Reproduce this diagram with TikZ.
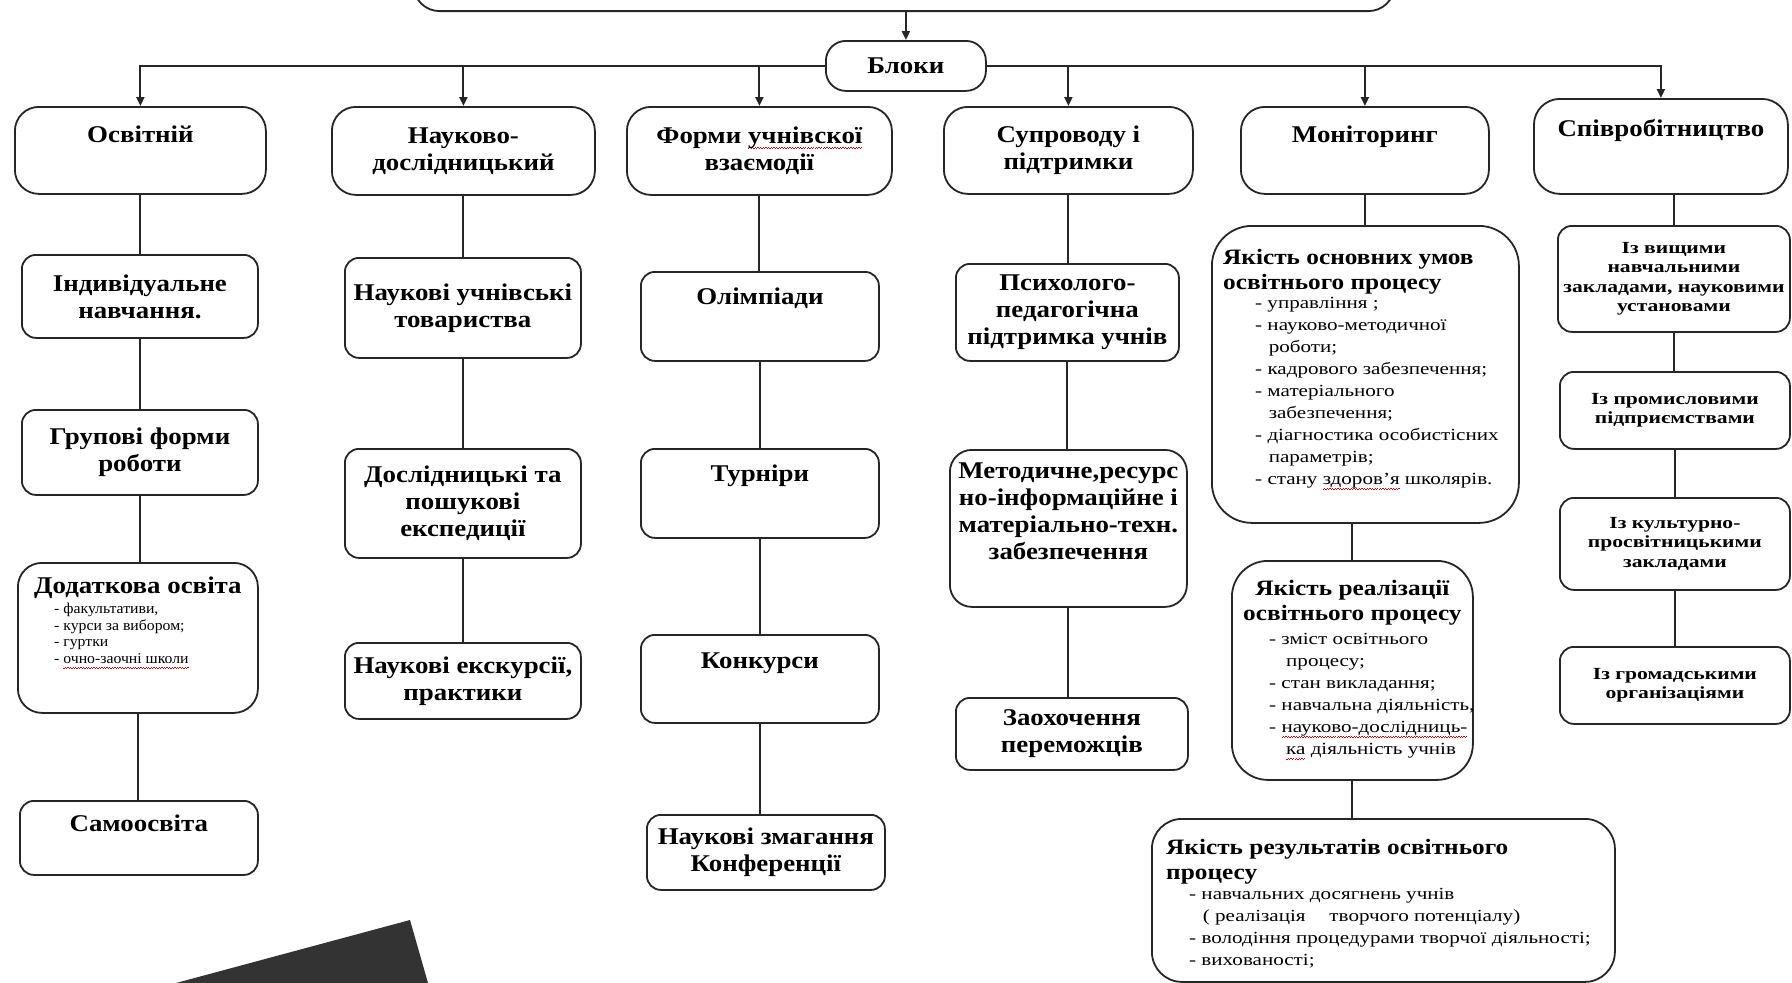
\documentclass[tikz,border=0pt]{standalone}
\usepackage{fontspec}
\setmainfont{Liberation Serif}
\newfontfamily\stA[FakeStretch=1.12]{Liberation Serif}
\newfontfamily\stB[FakeStretch=1.15]{Liberation Serif}
\newfontfamily\stC[FakeStretch=1.24]{Liberation Serif}
\newfontfamily\stE[FakeStretch=1.27]{Liberation Serif}
\newfontfamily\stD[FakeStretch=1.05]{Liberation Serif}
\usetikzlibrary{arrows.meta}
\newcommand\fT{\stA\fontsize{24}{27}\selectfont\bfseries}
\newcommand\fM{\stB\fontsize{22}{25}\selectfont\bfseries}
\newcommand\fS{\stE\fontsize{17}{19.5}\selectfont\bfseries}
\newcommand\fL{\stC\fontsize{17}{22}\selectfont}
\newcommand\fD{\stD\fontsize{15}{16.5}\selectfont}
\newcommand\sq[1]{\setbox0=\hbox{#1}\rlap{\color{red!85!black}\hbox to\wd0{\xleaders\hbox{\rule[-5.6pt]{1.3pt}{1pt}\rule[-4.6pt]{1.3pt}{1pt}}\hfill}}\box0\relax}
\begin{document}
\begin{tikzpicture}[x=1pt,y=-1pt,
  bx/.style={draw=black!85, line width=1.8pt, rounded corners=#1, inner sep=0pt,
    align=center, font=\fT, anchor=north west},
  bx/.default=14pt,
  sz/.style 2 args={minimum width=#1, minimum height=#2},
  ln/.style={draw=black!85, line width=2pt},
  arr/.style={ln, -{Triangle[length=9pt,width=8pt]}},
  tt/.style={anchor=base, font=\fT, inner sep=0pt},
  tl/.style={anchor=north west, font=\fM, inner sep=0pt, align=left},
  tc/.style={anchor=north, font=\fM, inner sep=0pt, align=center},
  lst/.style={anchor=north west, inner sep=0pt, align=left},
]
\useasboundingbox (0,0) rectangle (1792,983);
\clip (0,0) rectangle (1792,983);
\fill[white] (0,0) rectangle (1792,983);

% top and Blocks
\node[bx=26pt, sz={981}{110}, anchor=south] (top) at (904,12) {};
\node[bx=20pt, sz={160}{50}] (blk) at (825,40) {Блоки};

% top-level blocks
\node[bx=24pt, sz={251}{87}] (osv) at (14,106) {};
\node[tt] (osvT) at ([yshift=-36pt]osv.north) {Освітній};
\node[bx=24pt, sz={263}{88}] (nd) at (331,106) {Науково-\\дослідницький};
\node[bx=24pt, sz={265}{88}] (fu) at (626,106) {Форми \sq{учнівскої}\\взаємодії};
\node[bx=24pt, sz={249}{87}] (sup) at (943,106) {Супроводу і\\підтримки};
\node[bx=24pt, sz={248}{87}] (mon) at (1240,106) {};
\node[tt] (monT) at ([yshift=-36pt]mon.north) {Моніторинг};
\node[bx=26pt, sz={254}{95}] (spiv) at (1533,98) {};
\node[tt] (spivT) at ([yshift=-38pt]spiv.north) {Співробітництво};

% column 1
\node[bx, sz={236}{83}] (ind) at (21,254) {Індивідуальне\\навчання.};
\node[bx, sz={236}{85}] (grp) at (21,409) {Групові форми\\роботи};
\node[bx=24pt, sz={240}{150}] (dod) at (17,562) {};
\node[tt] (dodT) at ([yshift=-31pt]dod.north) {Додаткова освіта};
\node[lst, font=\fD] (dodL) at ([xshift=37pt,yshift=-41pt]dod.north west)
  {- факультативи,\\- курси за вибором;\\- гуртки\\- \sq{очно-заочні школи}};
\node[bx, sz={238}{74}] (sam) at (19,800) {};
\node[tt] (samT) at ([yshift=-31pt]sam.north) {Самоосвіта};

% column 2
\node[bx, sz={236}{100}] (ns) at (344,257) {Наукові учнівські\\товариства};
\node[bx, sz={236}{109}] (dos) at (344,448) {Дослідницькі та\\пошукові\\експедиції};
\node[bx, sz={236}{76}] (eks) at (344,642) {Наукові екскурсії,\\практики};

% column 3
\node[bx, sz={238}{89}] (ol) at (640,271) {};
\node[tt] (olT) at ([yshift=-33pt]ol.north) {Олімпіади};
\node[bx, sz={238}{89}] (tur) at (640,448) {};
\node[tt] (turT) at ([yshift=-33pt]tur.north) {Турніри};
\node[bx, sz={238}{88}] (kon) at (640,634) {};
\node[tt] (konT) at ([yshift=-34pt]kon.north) {Конкурси};
\node[bx, sz={238}{75}] (zm) at (646,814) {Наукові змагання\\Конференції};

% column 4
\node[bx, sz={223}{97}] (psy) at (955,263) {Психолого-\\педагогічна\\підтримка учнів};
\node[bx=22pt, sz={237}{157}] (met) at (949,449) {};
\node[tc, font=\fT] (metT) at ([yshift=-14pt]met.north) {Методичне,ресурс\\но-інформаційне і\\матеріально-техн.\\забезпечення};
\node[bx, sz={232}{72}] (zao) at (955,697) {Заохочення\\переможців};

% column 5
\node[bx=40pt, sz={307}{297}] (osn) at (1211,225) {};
\node[tl] (osnT) at ([xshift=12pt,yshift=-24pt]osn.north west) {Якість основних умов\\освітнього процесу};
\node[lst, font=\fL] (osnL) at ([xshift=44pt,yshift=-72pt]osn.north west)
  {- управління ;\\- науково-методичної\\\hspace*{0.8em}роботи;\\- кадрового забезпечення;\\- матеріального\\\hspace*{0.8em}забезпечення;\\- діагностика особистісних\\\hspace*{0.8em}параметрів;\\- стану \sq{здоров’я} школярів.};
\node[bx=36pt, sz={241}{219}] (real) at (1231,560) {};
\node[tc] (realT) at ([yshift=-20pt]real.north) {Якість реалізації\\освітнього процесу};
\node[lst, font=\fL] (realL) at ([xshift=38pt,yshift=-73pt]real.north west)
  {- зміст освітнього\\\hspace*{1em}процесу;\\- стан викладання;\\- навчальна діяльність,\\- \sq{науково-дослідниць-}\\\hspace*{1em}\sq{ка} діяльність учнів};
\node[bx=30pt, sz={463}{163}] (res) at (1151,818) {};
\node[tl] (resT) at ([xshift=15pt,yshift=-21pt]res.north west) {Якість результатів освітнього\\процесу};
\node[lst, font=\fL] (resL) at ([xshift=38pt,yshift=-70pt]res.north west)
  {- навчальних досягнень учнів\\\hspace*{0.8em}( реалізація\hspace{1.4em}творчого потенціалу)\\- володіння процедурами творчої діяльності;\\- вихованості;};

% column 6
\node[bx, font=\fS, sz={232}{106}] (vys) at (1557,225) {Із вищими\\навчальними\\закладами, науковими\\установами};
\node[bx, font=\fS, sz={230}{77}] (prom) at (1559,371) {Із промисловими\\підприємствами};
\node[bx, font=\fS, sz={230}{92}] (kul) at (1559,497) {Із культурно-\\просвітницькими\\закладами};
\node[bx, font=\fS, sz={230}{77}] (grom) at (1559,646) {Із громадськими\\організаціями};

% connectors
\draw[arr] (blk.north |- top.south) -- (blk.north);
\draw[arr] (blk.west) -| (osv.north);
\draw[arr] (nd.north |- blk.west) -- (nd.north);
\draw[arr] (fu.north |- blk.west) -- (fu.north);
\draw[arr] (sup.north |- blk.east) -- (sup.north);
\draw[arr] (mon.north |- blk.east) -- (mon.north);
\draw[arr] (blk.east) -| (spiv.north);

\draw[ln] (osv.south) -- (osv.south |- ind.north);
\draw[ln] (ind.south) -- (ind.south |- grp.north);
\draw[ln] (grp.south) -- (grp.south |- dod.north);
\draw[ln] (dod.south) -- (dod.south |- sam.north);

\draw[ln] (nd.south) -- (nd.south |- ns.north);
\draw[ln] (ns.south) -- (ns.south |- dos.north);
\draw[ln] (dos.south) -- (dos.south |- eks.north);

\draw[ln] (fu.south) -- (fu.south |- ol.north);
\draw[ln] (ol.south) -- (ol.south |- tur.north);
\draw[ln] (tur.south) -- (tur.south |- kon.north);
\draw[ln] (kon.south) -- (kon.south |- zm.north);

\draw[ln] (sup.south) -- (sup.south |- psy.north);
\draw[ln] (psy.south) -- (psy.south |- met.north);
\draw[ln] (met.south) -- (met.south |- zao.north);

\draw[ln] (mon.south) -- (mon.south |- osn.north);
\draw[ln] (real.north) -- (real.north |- osn.south);
\draw[ln] (real.south) -- (real.south |- res.north);

\draw[ln] (vys.north) -- (vys.north |- spiv.south);
\draw[ln] (vys.south) -- (vys.south |- prom.north);
\draw[ln] (prom.south) -- (prom.south |- kul.north);
\draw[ln] (kul.south) -- (kul.south |- grom.north);

% dark shape at bottom left
\fill[black!80] (150,990) -- (410,920) -- (430,990) -- cycle;
\end{tikzpicture}
\end{document}
